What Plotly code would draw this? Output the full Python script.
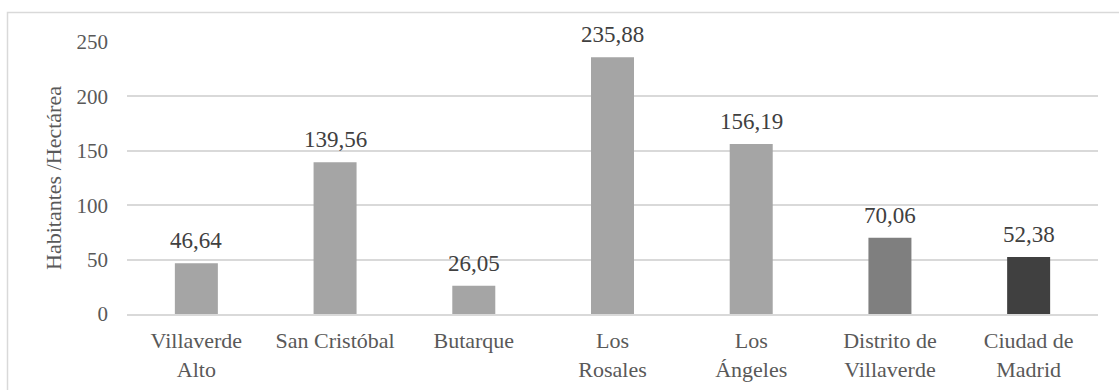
import plotly.graph_objects as go

# Population density by neighbourhood (inhabitants per hectare)
categories = [
    "Villaverde<br>Alto",
    "San Cristóbal",
    "Butarque",
    "Los<br>Rosales",
    "Los<br>Ángeles",
    "Distrito de<br>Villaverde",
    "Ciudad de<br>Madrid",
]
density = [46.64, 139.56, 26.05, 235.88, 156.19, 70.06, 52.38]
bar_colors = ["#A5A5A5", "#A5A5A5", "#A5A5A5", "#A5A5A5", "#A5A5A5", "#7F7F7F", "#404040"]
y_ticks = [0, 50, 100, 150, 200, 250]

FONT = "Liberation Serif, Times New Roman, serif"
labels = [f"{v:.2f}".replace(".", ",") for v in density]

fig = go.Figure(
    go.Bar(
        x=categories,
        y=density,
        marker=dict(color=bar_colors, line=dict(width=0)),
        hoverinfo="skip",
    )
)

# value labels above each bar
for cat, val, lab in zip(categories, density, labels):
    fig.add_annotation(
        x=cat,
        y=val,
        text=lab,
        showarrow=False,
        yanchor="bottom",
        yshift=8,
        font=dict(family=FONT, size=23, color="#404040"),
    )

W, H = 1119, 390
ML, MR, MT, MB = 127, 21, 42, 76

fig.update_layout(
    width=W,
    height=H,
    margin=dict(l=ML, r=MR, t=MT, b=MB, pad=0, autoexpand=False),
    paper_bgcolor="white",
    plot_bgcolor="white",
    bargap=0.69,
    showlegend=False,
    font=dict(family=FONT, size=22, color="#595959"),
    xaxis=dict(
        automargin=False,
        showgrid=False,
        showline=True,
        linecolor="#D9D9D9",
        linewidth=1.5,
        ticks="",
        ticklabelstandoff=6,
        tickfont=dict(family=FONT, size=22, color="#595959"),
    ),
    yaxis=dict(
        automargin=False,
        range=[0, 250],
        tickvals=y_ticks,
        showgrid=True,
        gridcolor="#D9D9D9",
        gridwidth=1.5,
        zeroline=False,
        showline=False,
        ticks="",
        ticklabelstandoff=18,
        tickfont=dict(family=FONT, size=21, color="#595959"),
        title=dict(
            text="Habitantes /Hectárea",
            font=dict(family=FONT, size=22, color="#595959"),
            standoff=8,
        ),
    ),
)

# chart-area frame
pw = W - ML - MR
ph = H - MT - MB
fig.add_shape(
    type="rect",
    xref="paper",
    yref="paper",
    x0=(7.5 - ML) / pw,
    x1=(W + 10 - ML) / pw,
    y0=-(H + 10 - MT - ph) / ph,
    y1=1 + (MT - 12.5) / ph,
    line=dict(color="#D9D9D9", width=1.5),
    fillcolor="rgba(0,0,0,0)",
    layer="below",
)

fig.write_html("out.html")
